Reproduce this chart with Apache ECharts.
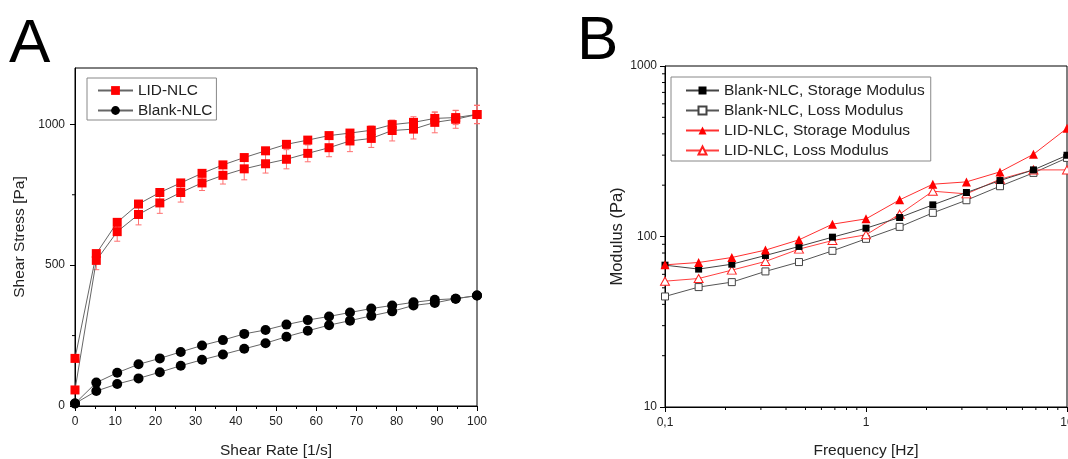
<!DOCTYPE html>
<html>
<head>
<meta charset="utf-8">
<script src="https://cdn.jsdelivr.net/npm/echarts@6/dist/echarts.min.js"></script>
<style>
html,body{margin:0;padding:0;background:#fff;}
#chart{width:1068px;height:459px;}
</style>
</head>
<body>
<div id="chart"></div>
<script>
// ---------- Panel A data ----------
var shearRate = [0, 5.3, 10.5, 15.8, 21.1, 26.3, 31.6, 36.8, 42.1, 47.4, 52.6, 57.9, 63.2, 68.4, 73.7, 78.9, 84.2, 89.5, 94.7, 100];
var lidUp = [169, 541, 652, 717, 758, 792, 826, 856, 882, 906, 929, 944, 960, 969, 979, 999, 1007, 1021, 1024, 1035];
var lidDown = [57, 517, 619, 680, 721, 758, 792, 819, 842, 860, 876, 897, 917, 941, 950, 978, 983, 1007, 1018, 1035];
var lidUpErr = [10, 12, 12, 12, 12, 12, 12, 12, 12, 12, 12, 12, 12, 12, 15, 15, 20, 22, 25, 33];
var lidDownErr = [10, 33, 34, 37, 37, 34, 27, 31, 39, 33, 34, 30, 32, 38, 32, 37, 35, 37, 32, 32];
var blankUp = [9, 83, 118, 148, 169, 192, 215, 234, 256, 270, 289, 305, 318, 332, 346, 357, 368, 377, 381, 392];
var blankDown = [9, 53, 78, 98, 120, 143, 164, 183, 203, 223, 246, 267, 287, 303, 320, 336, 357, 366, 381, 392];
var stressTicks = [0, 500, 1000];
var stressMinorTicks = [250, 750];

// ---------- Panel B data ----------
var freq = [0.1, 0.147, 0.215, 0.316, 0.464, 0.681, 1, 1.47, 2.15, 3.16, 4.64, 6.81, 10];
var blankStorage = [67.9, 64.4, 68.8, 77.4, 87.4, 99.1, 111.9, 129.2, 153.3, 181.1, 212.9, 245.8, 299.6];
var blankLoss = [44.5, 50.5, 54.0, 62.4, 70.8, 82.4, 96.9, 113.9, 137.6, 163.2, 197.2, 236.1, 289];
var lidStorage = [68.2, 70.4, 75.3, 83.2, 95.6, 118.1, 126.9, 164, 202.6, 209.1, 239.3, 303.6, 431];
var lidLoss = [54.7, 56.7, 63.5, 71.4, 84.3, 94.7, 102.3, 135.2, 184.4, 177.8, 216.7, 245.8, 245.8];
var freqMinorTicks = [0.2, 0.3, 0.4, 0.5, 0.6, 0.7, 0.8, 0.9, 2, 3, 4, 5, 6, 7, 8, 9];
var modulusMinorTicks = [20, 30, 40, 50, 60, 70, 80, 90, 200, 300, 400, 500, 600, 700, 800, 900];

var FONT = '"Liberation Sans", Arial, sans-serif';
var chart = echarts.init(document.getElementById('chart'), null, {renderer: 'canvas'});

function pairs(xs, ys) { return xs.map(function (x, i) { return [x, ys[i]]; }); }
function errData(xs, ys, es) { return xs.map(function (x, i) { return [x, ys[i], es[i]]; }); }

function errorBarRender(params, api) {
  var x = api.value(0), y = api.value(1), e = api.value(2);
  var top = api.coord([x, y + e]);
  var bot = api.coord([x, y - e]);
  var w = 3;
  var st = {stroke: '#ff7070', lineWidth: 1};
  return {type: 'group', children: [
    {type: 'line', shape: {x1: top[0], y1: top[1], x2: bot[0], y2: bot[1]}, style: st},
    {type: 'line', shape: {x1: top[0] - w, y1: top[1], x2: top[0] + w, y2: top[1]}, style: st},
    {type: 'line', shape: {x1: bot[0] - w, y1: bot[1], x2: bot[0] + w, y2: bot[1]}, style: st}
  ]};
}

// minor tick renderer: item = [xval, yval, dir] dir 0 = x-axis tick (down), 1 = y-axis tick (left)
function minorTickRender(params, api) {
  var p = api.coord([api.value(0), api.value(1)]);
  var dir = api.value(2);
  var shape = dir === 0 ? {x1: p[0], y1: p[1], x2: p[0], y2: p[1] + 3}
                        : {x1: p[0] - 3, y1: p[1], x2: p[0], y2: p[1]};
  return {type: 'line', shape: shape, style: {stroke: '#000', lineWidth: 1}};
}

var axisTextStyle = {color: '#222', fontFamily: FONT, fontSize: 12};
var nameStyle = {color: '#222', fontFamily: FONT, fontSize: 15.5};
function plain(v) { return String(v); }

var option = {
  animation: false,
  backgroundColor: '#fff',
  graphic: [
    {type: 'text', left: 9, top: 14, style: {text: 'A', font: '62px ' + FONT, fill: '#000'}},
    {type: 'text', left: 577, top: 11, style: {text: 'B', font: '62px ' + FONT, fill: '#000'}}
  ],
  grid: [
    {left: 75, top: 68, width: 402, height: 338, show: true, borderColor: '#000', borderWidth: 1, backgroundColor: 'transparent', outerBoundsMode: 'none', containLabel: false},
    {left: 665, top: 66, width: 402, height: 341, show: true, borderColor: '#000', borderWidth: 1, backgroundColor: 'transparent', outerBoundsMode: 'none', containLabel: false}
  ],
  legend: [
    {
      data: ['LID-NLC', 'Blank-NLC'],
      orient: 'vertical', left: 87, top: 78,
      padding: [4, 4, 1, 10], itemGap: 3,
      itemWidth: 35, itemHeight: 11,
      borderColor: '#888', borderWidth: 1,
      textStyle: {fontFamily: FONT, fontSize: 15.4, color: '#222', lineHeight: 17}
    },
    {
      data: ['Blank-NLC, Storage Modulus', 'Blank-NLC, Loss Modulus', 'LID-NLC, Storage Modulus', 'LID-NLC, Loss Modulus'],
      orient: 'vertical', left: 671, top: 77,
      padding: [5, 6, 2, 14], itemGap: 3,
      itemWidth: 33, itemHeight: 10,
      borderColor: '#888', borderWidth: 1,
      textStyle: {fontFamily: FONT, fontSize: 15.5, color: '#222', lineHeight: 17}
    }
  ],
  xAxis: [
    {
      gridIndex: 0, type: 'value', min: 0, max: 100, interval: 10,
      name: 'Shear Rate [1/s]', nameLocation: 'middle', nameGap: 37, nameTextStyle: nameStyle,
      axisLine: {lineStyle: {color: '#000', width: 1}},
      axisTick: {inside: false, length: 5, lineStyle: {color: '#000'}},
      minorTick: {show: true, splitNumber: 2, length: 3, lineStyle: {color: '#000'}},
      axisLabel: Object.assign({margin: 10, formatter: plain}, axisTextStyle),
      splitLine: {show: false}
    },
    {
      gridIndex: 1, type: 'log', logBase: 10, min: 0.1, max: 10,
      name: 'Frequency [Hz]', nameLocation: 'middle', nameGap: 36, nameTextStyle: nameStyle,
      axisLine: {lineStyle: {color: '#000', width: 1}},
      axisTick: {inside: false, length: 5, lineStyle: {color: '#000'}},
      axisLabel: Object.assign({margin: 10, formatter: function (v) { return String(v).replace('.', ','); }}, axisTextStyle),
      splitLine: {show: false}
    }
  ],
  yAxis: [
    {
      gridIndex: 0, type: 'value', min: 0, max: 1200, interval: 500,
      name: 'Shear Stress [Pa]', nameLocation: 'middle', nameGap: 47, nameTextStyle: nameStyle,
      axisLine: {lineStyle: {color: '#000', width: 1}},
      axisTick: {inside: false, length: 5, customValues: stressTicks, lineStyle: {color: '#000'}},
      axisLabel: Object.assign({margin: 10, customValues: stressTicks, formatter: plain}, axisTextStyle),
      splitLine: {show: false}
    },
    {
      gridIndex: 1, type: 'log', logBase: 10, min: 10, max: 1000,
      name: 'Modulus (Pa)', nameLocation: 'middle', nameGap: 32, nameTextStyle: Object.assign({}, nameStyle, {fontSize: 16.5}),
      axisLine: {lineStyle: {color: '#000', width: 1}},
      axisTick: {inside: false, length: 5, lineStyle: {color: '#000'}},
      axisLabel: Object.assign({margin: 8, formatter: plain}, axisTextStyle),
      splitLine: {show: false}
    }
  ],
  series: [
    // error bars (panel A)
    {type: 'custom', name: 'errUp', xAxisIndex: 0, yAxisIndex: 0, renderItem: errorBarRender, data: errData(shearRate, lidUp, lidUpErr), z: 1, silent: true},
    {type: 'custom', name: 'errDown', xAxisIndex: 0, yAxisIndex: 0, renderItem: errorBarRender, data: errData(shearRate, lidDown, lidDownErr), z: 1, silent: true},
    // panel A lines
    {type: 'line', name: 'LID-NLC', xAxisIndex: 0, yAxisIndex: 0, data: pairs(shearRate, lidUp),
     symbol: 'rect', symbolSize: 9, itemStyle: {color: '#ff0000'}, lineStyle: {color: '#666', width: 1}, z: 3},
    {type: 'line', name: 'LID-NLC', xAxisIndex: 0, yAxisIndex: 0, data: pairs(shearRate, lidDown),
     symbol: 'rect', symbolSize: 9, itemStyle: {color: '#ff0000'}, lineStyle: {color: '#666', width: 1}, z: 3},
    {type: 'line', name: 'Blank-NLC', xAxisIndex: 0, yAxisIndex: 0, data: pairs(shearRate, blankUp),
     symbol: 'circle', symbolSize: 10, itemStyle: {color: '#000'}, lineStyle: {color: '#666', width: 1}, z: 3},
    {type: 'line', name: 'Blank-NLC', xAxisIndex: 0, yAxisIndex: 0, data: pairs(shearRate, blankDown),
     symbol: 'circle', symbolSize: 10, itemStyle: {color: '#000'}, lineStyle: {color: '#666', width: 1}, z: 3},
    // panel A minor y ticks
    {type: 'custom', name: 'minorA', xAxisIndex: 0, yAxisIndex: 0, renderItem: minorTickRender, silent: true, clip: false,
     data: stressMinorTicks.map(function (v) { return [0, v, 1]; })},
    // panel B lines
    {type: 'line', name: 'Blank-NLC, Storage Modulus', xAxisIndex: 1, yAxisIndex: 1, data: pairs(freq, blankStorage),
     symbol: 'rect', symbolSize: 7, itemStyle: {color: '#000'}, lineStyle: {color: '#444', width: 1}, z: 4},
    {type: 'line', name: 'Blank-NLC, Loss Modulus', xAxisIndex: 1, yAxisIndex: 1, data: pairs(freq, blankLoss),
     symbol: 'path://M0,0H10V10H0Z', symbolSize: 7, itemStyle: {color: '#fff', borderColor: '#444', borderWidth: 1}, lineStyle: {color: '#555', width: 1}, z: 3},
    {type: 'line', name: 'LID-NLC, Storage Modulus', xAxisIndex: 1, yAxisIndex: 1, data: pairs(freq, lidStorage),
     symbol: 'triangle', symbolSize: 9, itemStyle: {color: '#ff0000'}, lineStyle: {color: '#ff3030', width: 1}, z: 4},
    {type: 'line', name: 'LID-NLC, Loss Modulus', xAxisIndex: 1, yAxisIndex: 1, data: pairs(freq, lidLoss),
     symbol: 'path://M5,0L10,9H0Z', symbolSize: [9, 8], itemStyle: {color: '#fff', borderColor: '#ff2020', borderWidth: 1}, lineStyle: {color: '#ff4040', width: 1}, z: 3},
    // panel B minor ticks
    {type: 'custom', name: 'minorBx', xAxisIndex: 1, yAxisIndex: 1, renderItem: minorTickRender, silent: true, clip: false,
     data: freqMinorTicks.map(function (v) { return [v, 10, 0]; })},
    {type: 'custom', name: 'minorBy', xAxisIndex: 1, yAxisIndex: 1, renderItem: minorTickRender, silent: true, clip: false,
     data: modulusMinorTicks.map(function (v) { return [0.1, v, 1]; })}
  ]
};
chart.setOption(option);
</script>
</body>
</html>
